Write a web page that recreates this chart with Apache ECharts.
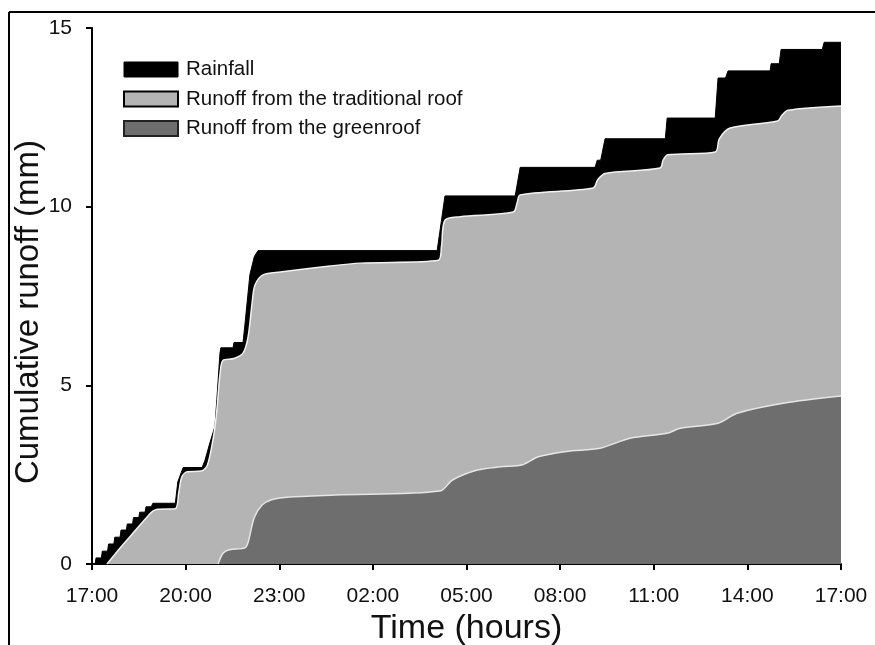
<!DOCTYPE html>
<html>
<head>
<meta charset="utf-8">
<script src="https://cdn.jsdelivr.net/npm/echarts@6/dist/echarts.min.js"></script>
<style>
  html, body { margin: 0; padding: 0; background: #fff; }
  #chart { width: 875px; height: 645px; }
</style>
</head>
<body>
<div id="chart"></div>
<script>
// Tick labels for the time axis (hours after 17:00)
const timeLabels = ['17:00', '20:00', '23:00', '02:00', '05:00', '08:00', '11:00', '14:00', '17:00'];
const seriesNames = ['Rainfall', 'Runoff from the traditional roof', 'Runoff from the greenroof'];

// Rainfall (cumulative, mm) – hours after 17:00
const rainHours = [0.1, 0.13, 0.3, 0.33, 0.5, 0.53, 0.7, 0.73, 0.9, 0.93, 1.1, 1.13, 1.3, 1.33, 1.5, 1.53, 1.7, 1.73, 1.9, 1.95,
  2.67, 2.75, 2.92, 3.53, 3.62, 3.78, 3.94, 4.0, 4.1, 4.13, 4.52, 4.55, 4.84, 4.9, 5.06, 5.2, 5.32,
  11.06, 11.31, 13.56, 13.72, 16.12, 16.19, 16.3, 16.44, 18.37, 18.43, 19.97, 20.06, 20.3, 20.38,
  21.73, 21.76, 22.02, 22.08, 23.4, 23.46, 24];
const rainValues = [0, 0.17, 0.17, 0.36, 0.36, 0.56, 0.56, 0.75, 0.75, 0.95, 0.95, 1.12, 1.12, 1.3, 1.3, 1.45, 1.45, 1.6, 1.6, 1.7,
  1.7, 2.3, 2.7, 2.7, 2.9, 3.4, 3.85, 4.6, 5.9, 6.05, 6.05, 6.2, 6.2, 6.7, 8.1, 8.6, 8.77,
  8.77, 10.3, 10.3, 11.1, 11.1, 11.3, 11.3, 11.9, 11.9, 12.48, 12.48, 13.6, 13.6, 13.8,
  13.8, 14.0, 14.0, 14.4, 14.4, 14.6, 14.6];

// Runoff from the traditional roof (cumulative, mm)
const tradHours = [0.48, 0.9, 1.4, 1.8, 1.95, 2.1, 2.67, 2.78, 2.88, 3.05, 3.5, 3.7, 3.9, 4.0, 4.1, 4.2, 4.55, 4.84, 5.0, 5.13, 5.22,
  5.48, 6.03, 7.63, 8.6, 11.1, 11.2, 11.31, 11.8, 13.5, 13.62, 13.72, 16.06, 16.2, 16.44, 18.2, 18.3, 18.45,
  19.97, 20.1, 20.45, 21.97, 22.1, 22.3, 24];
const tradValues = [0, 0.45, 0.95, 1.35, 1.48, 1.53, 1.55, 2.0, 2.44, 2.58, 2.6, 2.77, 3.6, 4.3, 5.3, 5.7, 5.75, 5.9, 6.35, 7.3, 7.8,
  8.09, 8.17, 8.34, 8.42, 8.5, 8.9, 9.62, 9.72, 9.85, 10.1, 10.33, 10.52, 10.75, 10.93, 11.08, 11.3, 11.45,
  11.53, 11.9, 12.2, 12.4, 12.55, 12.7, 12.82];

// Runoff from the greenroof (cumulative, mm)
const greenHours = [4.04, 4.2, 4.4, 4.9, 5.0, 5.2, 5.45, 5.75, 6.25, 7.8, 11.15, 11.55, 12.35, 13.1, 13.8, 14.3,
  15.2, 16.28, 17.24, 18.43, 18.85, 20.06, 20.67, 22.15, 24];
const greenValues = [0, 0.3, 0.4, 0.45, 0.6, 1.3, 1.65, 1.8, 1.87, 1.93, 2.04, 2.35, 2.63, 2.72, 2.78, 3.0,
  3.15, 3.24, 3.52, 3.66, 3.8, 3.94, 4.22, 4.5, 4.7];

const zip = (xs, ys) => xs.map((x, i) => [x, ys[i]]);

const chart = echarts.init(document.getElementById('chart'), null, { renderer: 'canvas' });
const fontFam = 'Liberation Sans, Arial, sans-serif';

chart.setOption({
  animation: false,
  backgroundColor: '#ffffff',
  grid: { left: 92, right: 34, top: 28, bottom: 81, containLabel: false, outerBoundsMode: 'none' },
  legend: {
    orient: 'vertical',
    left: 118,
    top: 54,
    itemWidth: 54,
    itemHeight: 15,
    itemGap: 8.5,
    icon: 'rect',
    selectedMode: false,
    textStyle: { fontFamily: fontFam, fontSize: 20.5, color: '#111', lineHeight: 20, padding: [0, 0, 0, 3] },
    data: [
      { name: seriesNames[0], itemStyle: { color: '#000', borderColor: '#000', borderWidth: 1 } },
      { name: seriesNames[1], itemStyle: { color: '#b4b4b4', borderColor: '#000', borderWidth: 2 } },
      { name: seriesNames[2], itemStyle: { color: '#6e6e6e', borderColor: '#222', borderWidth: 2 } }
    ]
  },
  xAxis: {
    type: 'value',
    min: 0, max: 24, interval: 3,
    name: 'Time (hours)',
    nameLocation: 'middle',
    nameGap: 48,
    nameMoveOverlap: false,
    nameTextStyle: { fontFamily: fontFam, fontSize: 34, color: '#111' },
    axisLine: { show: true, onZero: false, lineStyle: { color: '#000', width: 2 } },
    axisTick: { show: true, inside: false, length: 6, lineStyle: { color: '#000', width: 2 } },
    axisLabel: {
      fontFamily: fontFam, fontSize: 21, color: '#111', margin: 22,
      formatter: (v) => timeLabels[Math.round(v / 3)]
    },
    splitLine: { show: false }
  },
  yAxis: {
    type: 'value',
    min: 0, max: 15, interval: 5,
    name: 'Cumulative runoff (mm)',
    nameLocation: 'middle',
    nameGap: 47,
    nameMoveOverlap: false,
    nameTextStyle: { fontFamily: fontFam, fontSize: 33, color: '#111', padding: [0, 32, 0, 0] },
    axisLine: { show: true, onZero: false, lineStyle: { color: '#000', width: 2 } },
    axisTick: { show: true, inside: false, length: 6, lineStyle: { color: '#000', width: 2 } },
    axisLabel: { fontFamily: fontFam, fontSize: 21, color: '#111', margin: 20 },
    splitLine: { show: false }
  },
  series: [
    {
      name: seriesNames[0], type: 'line', data: zip(rainHours, rainValues),
      showSymbol: false, symbol: 'none', z: 1,
      itemStyle: { color: '#000' },
      lineStyle: { color: '#000', width: 1 },
      areaStyle: { color: '#000', opacity: 1 }
    },
    {
      name: seriesNames[1], type: 'line', data: zip(tradHours, tradValues),
      showSymbol: false, symbol: 'none', z: 2, smooth: 0.3,
      itemStyle: { color: '#b4b4b4' },
      lineStyle: { color: '#f2f2f2', width: 1.5 },
      areaStyle: { color: '#b4b4b4', opacity: 1 }
    },
    {
      name: seriesNames[2], type: 'line', data: zip(greenHours, greenValues),
      showSymbol: false, symbol: 'none', z: 3, smooth: 0.3,
      itemStyle: { color: '#6e6e6e' },
      lineStyle: { color: '#e6e6e6', width: 1.5 },
      areaStyle: { color: '#6e6e6e', opacity: 1 }
    }
  ],
  graphic: [
    { type: 'line', shape: { x1: 9, y1: 12, x2: 875, y2: 12 }, style: { stroke: '#000', lineWidth: 2 }, silent: true },
    { type: 'line', shape: { x1: 9, y1: 12, x2: 9, y2: 645 }, style: { stroke: '#000', lineWidth: 2 }, silent: true }
  ]
});
</script>
</body>
</html>
